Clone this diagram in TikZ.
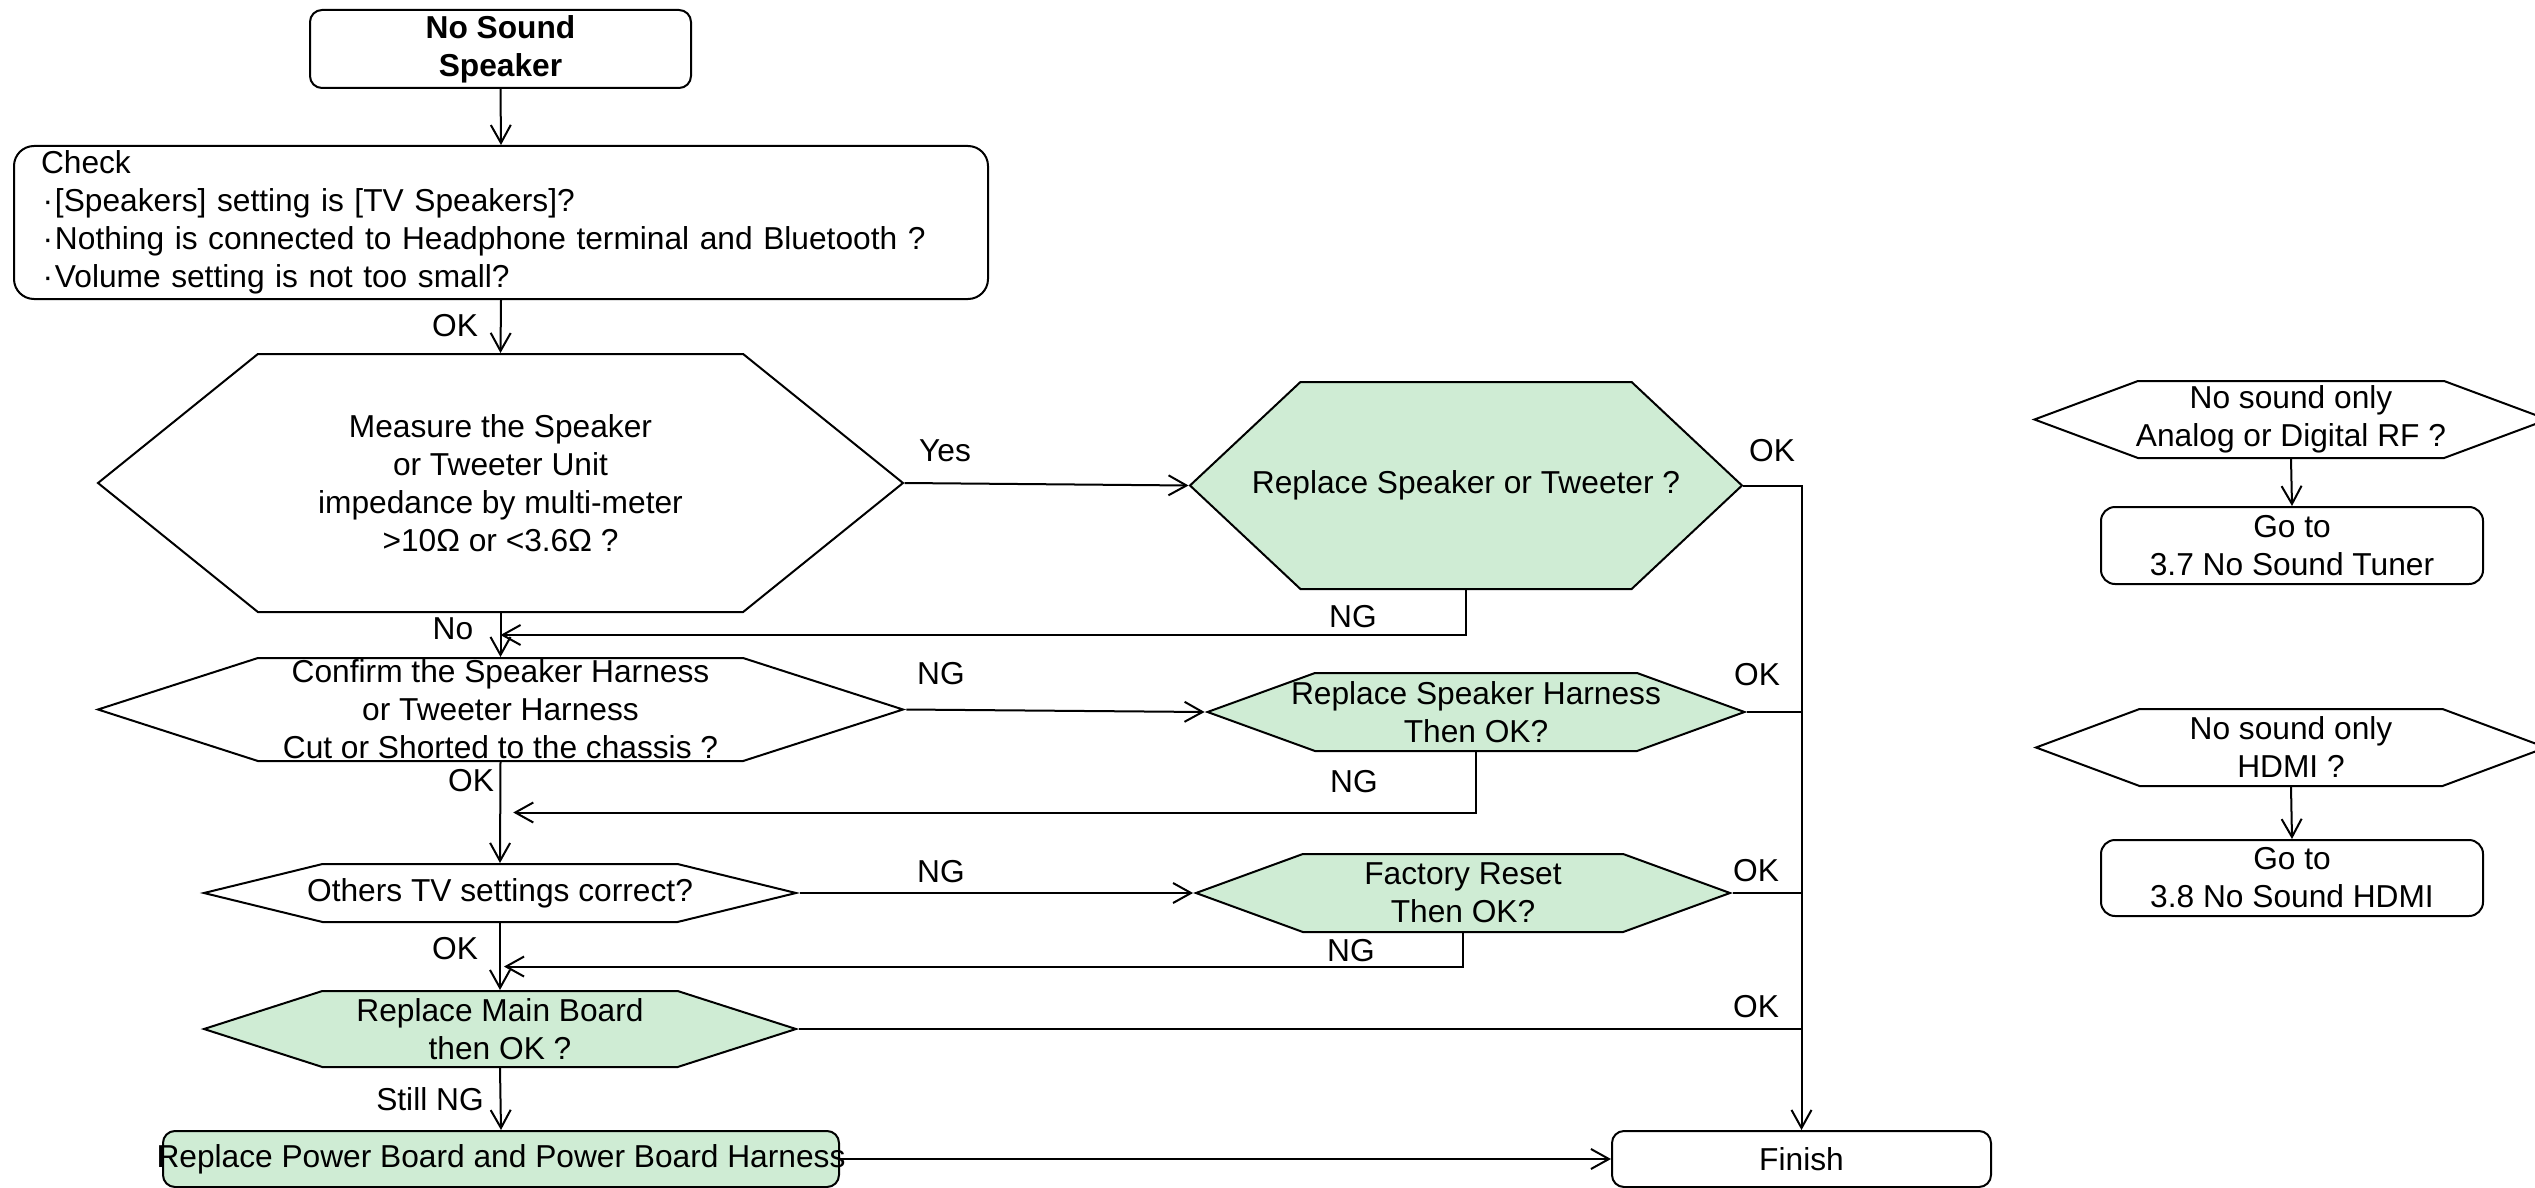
\documentclass[tikz,border=0pt]{standalone}
\usepackage{fontspec}
\setmainfont{Liberation Sans}
\usepackage{xcolor}
\usepackage{tikz}
\usetikzlibrary{arrows.meta,shapes.symbols,calc}
\definecolor{okgreen}{RGB}{207,236,212}

\begin{document}
\begin{tikzpicture}[x=1pt,y=-1pt,
  font=\fontsize{31.7pt}{38pt}\selectfont,
  blk/.style={draw, line width=2pt, rounded corners=12pt, align=center, inner sep=0pt},
  hexq/.style={draw, line width=2pt, signal, signal to=east and west, align=center, inner sep=0pt},
  lbl/.style={inner sep=0pt},
  flow/.style={-{Straight Barb[length=18pt,width=20pt]}, line width=2pt},
  okline/.style={line width=2pt},
]
\useasboundingbox (0,0) rectangle (2535,1188);
% main column
\node[blk, font=\fontsize{31.7pt}{38pt}\selectfont\bfseries, minimum width=381pt, minimum height=78pt] (start) at (500.5,49) {No Sound\\Speaker};
\node[blk, rounded corners=20pt, align=left, text width=920pt, inner xsep=27pt, minimum width=974pt, minimum height=153pt] (check) at (501,222.5) {Check\\\makebox[14pt]{·}[Speakers] setting is [TV Speakers]?\\\makebox[14pt]{·}Nothing is connected to Headphone terminal and Bluetooth ?\\\makebox[14pt]{·}Volume setting is not too small?};
\node[hexq, minimum width=805pt, minimum height=258pt, signal pointer angle=77.8] (meas) at (500.5,483) {Measure the Speaker\\or Tweeter Unit\\impedance by multi-meter\\>10Ω or <3.6Ω ?};
\node[hexq, inner ysep=-4pt, minimum width=805pt, minimum height=103pt, signal pointer angle=35.7] (harn) at (500.5,709.5) {Confirm the Speaker Harness\\or Tweeter Harness\\Cut or Shorted to the chassis ?};
\node[hexq, inner xsep=-16pt, minimum width=592pt, minimum height=58pt, signal pointer angle=27.5] (tvset) at (500,893) {Others TV settings correct?};
\node[hexq, fill=okgreen, minimum width=592pt, minimum height=76pt, signal pointer angle=35.6] (mainb) at (500,1029) {Replace Main Board\\then OK ?};
\node[blk, fill=okgreen, inner xsep=-7pt, minimum width=676pt, minimum height=56pt] (power) at (501,1159) {Replace Power Board and Power Board Harness};
% repair column
\node[hexq, fill=okgreen, inner xsep=-50pt, minimum width=552pt, minimum height=207pt, signal pointer angle=86.3] (spk) at (1466,485.5) {Replace Speaker or Tweeter ?};
\node[hexq, fill=okgreen, inner xsep=-24pt, minimum width=536pt, minimum height=78pt, signal pointer angle=39.9] (newharn) at (1476,712) {Replace Speaker Harness\\Then OK?};
\node[hexq, fill=okgreen, minimum width=534pt, minimum height=78pt, signal pointer angle=40.1] (reset) at (1463,893) {Factory Reset\\Then OK?};
\node[blk, minimum width=379pt, minimum height=56pt] (finish) at (1801.5,1159) {Finish};
% side checks
\node[hexq, inner xsep=-2pt, minimum width=510pt, minimum height=77pt, signal pointer angle=40.8] (rf) at (2291,419.5) {No sound only\\Analog or Digital RF ?};
\node[blk, rounded corners=14pt, minimum width=382pt, minimum height=77pt] (tuner) at (2292,545.5) {Go to\\3.7 No Sound Tuner};
\node[hexq, minimum width=510pt, minimum height=77pt, signal pointer angle=40.8] (hdmiq) at (2291,747.5) {No sound only\\HDMI ?};
\node[blk, rounded corners=14pt, minimum width=382pt, minimum height=76pt] (hdmigo) at (2292,878) {Go to\\3.8 No Sound HDMI};
% branch labels
\node[lbl] (okA) at (455,326) {OK};
\node[lbl] (yesA) at (945,451) {Yes};
\node[lbl] (okB) at (1772,451) {OK};
\node[lbl] (ngA) at (1353,617) {NG};
\node[lbl] (noA) at (453,629) {No};
\node[lbl] (ngB) at (941,674) {NG};
\node[lbl] (okC) at (1757,675) {OK};
\node[lbl] (ngC) at (1354,782) {NG};
\node[lbl] (okD) at (471,781) {OK};
\node[lbl] (ngD) at (941,872) {NG};
\node[lbl] (okE) at (1756,871) {OK};
\node[lbl] (ngE) at (1351,951) {NG};
\node[lbl] (okF) at (455,949) {OK};
\node[lbl] (okG) at (1756,1007) {OK};
\node[lbl] (still) at (430,1099) {Still NG};
% flow
\draw[flow] (start.south) -- (check.north);
\draw[flow] (check.south) -- (meas.north);
\draw[flow] (meas.east) -- (spk.west);
\draw[flow] (meas.south) -- (harn.north);
\draw[flow] (spk.south) |- ($(meas.south)!.5!(harn.north)$);
\draw[flow] (harn.east) -- (newharn.west);
\draw[flow] (harn.south) -- (tvset.north);
\draw[flow] (newharn.south) |- ($(harn.south)!.5!(tvset.north)+(13,0)$);
\draw[flow] (tvset.east) -- (reset.west);
\draw[flow] (tvset.south) -- (mainb.north);
\draw[flow] (reset.south) |- ($(tvset.south)!.65!(mainb.north)+(4,0)$);
\draw[flow] (mainb.south) -- (power.north);
\draw[flow] (power.east) -- (finish.west);
% OK lines into finish
\draw[flow] (spk.east) -| (finish.north);
\draw[okline] (newharn.east) -- (newharn.east -| finish.north);
\draw[okline] (reset.east) -- (reset.east -| finish.north);
\draw[okline] (mainb.east) -- (mainb.east -| finish.north);
% side links
\draw[flow] (rf.south) -- (tuner.north);
\draw[flow] (hdmiq.south) -- (hdmigo.north);
\end{tikzpicture}
\end{document}
